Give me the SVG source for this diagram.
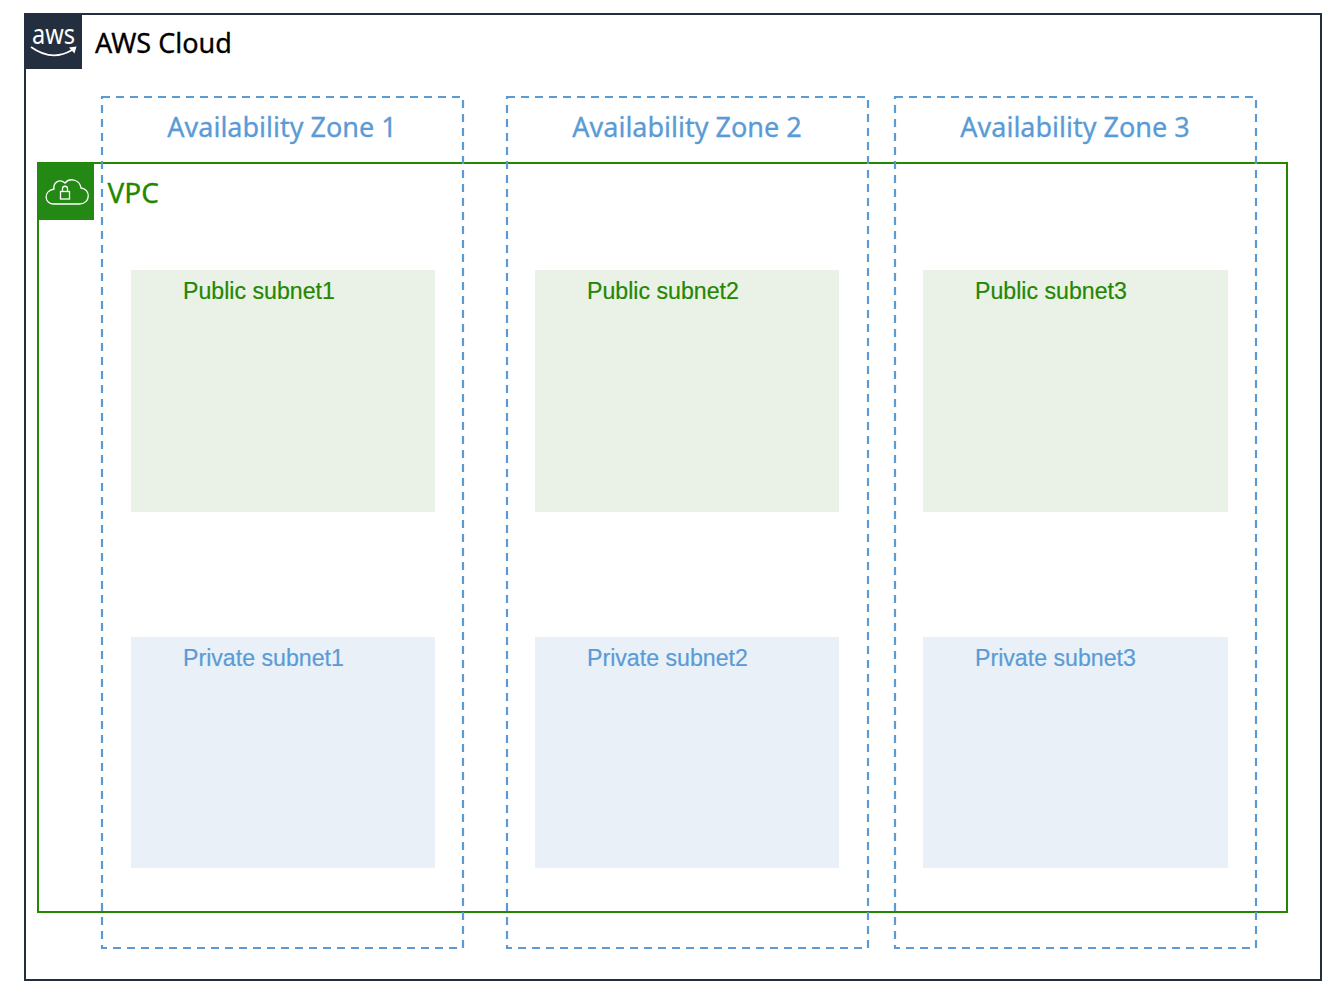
<svg xmlns="http://www.w3.org/2000/svg" width="1338" height="998" viewBox="0 0 1338 998">
<style>
.cloud{fill:none;stroke:#232f3e;stroke-width:2}
.vpc{fill:none;stroke:#248700;stroke-width:2}
.az{fill:none;stroke:#5a9bd5;stroke-width:2.200;stroke-dasharray:8 6}
.pub{fill:#eaf2e8}
.pri{fill:#e9f0f8}
.t{font-family:"Noto Sans","Open Sans",sans-serif}
.azt{font-size:27px;fill:#5a9bd5;stroke:#5a9bd5;stroke-width:.3;text-anchor:middle}
.s{font-family:"Liberation Sans",Arial,sans-serif;font-size:23.150px;stroke-width:.2}
.sg{fill:#248700;stroke:#248700}
.sb{fill:#5a9bd5;stroke:#5a9bd5}
</style>
<rect width="1338" height="998" fill="#fff"/>
<g id="aws-cloud">
<rect class="cloud" x="25" y="14" width="1296" height="966"/>
<rect x="25" y="13" width="57" height="56" fill="#232f3e"/>
<text x="32" y="43.500" class="t" font-size="27" fill="#fff" textLength="43" lengthAdjust="spacingAndGlyphs">aws</text>
<path d="M31 47Q52 62 72 50" fill="none" stroke="#fff" stroke-width="1.800"/>
<path d="M69 47.500L76.500 46.500L74.500 53.500Z" fill="#fff"/>
<text x="95" y="53" class="t" font-size="27" fill="#000" stroke="#000" stroke-width=".3">AWS Cloud</text>
</g>
<g id="vpc">
<rect class="vpc" x="38" y="163" width="1249" height="749"/>
<rect x="37" y="163" width="57" height="57" fill="#248814"/>
<path d="M54 204H79C91 204 91 189 81 188C80 180 70 177 65 183C59 178 53 183 54 189C43 191 44 204 54 204Z" fill="none" stroke="#fff" stroke-width="1.300"/>
<rect x="60.500" y="191.500" width="9" height="7.500" fill="none" stroke="#fff" stroke-width="1.300"/>
<path d="M62.500 191.500V188.500C62.500 185.500 67.500 185.500 67.500 188.500V191.500" fill="none" stroke="#fff" stroke-width="1.300"/>
<text x="107.500" y="203" class="t" font-size="28" fill="#248700" stroke="#248700" stroke-width=".3">VPC</text>
</g>
<g id="public-subnet1"><rect class="pub" x="131" y="270" width="304" height="242"/><text class="s sg" x="183" y="299">Public subnet1</text></g>
<g id="public-subnet2"><rect class="pub" x="535" y="270" width="304" height="242"/><text class="s sg" x="587" y="299">Public subnet2</text></g>
<g id="public-subnet3"><rect class="pub" x="923" y="270" width="305" height="242"/><text class="s sg" x="975" y="299">Public subnet3</text></g>
<g id="private-subnet1"><rect class="pri" x="131" y="637" width="304" height="231"/><text class="s sb" x="183" y="666">Private subnet1</text></g>
<g id="private-subnet2"><rect class="pri" x="535" y="637" width="304" height="231"/><text class="s sb" x="587" y="666">Private subnet2</text></g>
<g id="private-subnet3"><rect class="pri" x="923" y="637" width="305" height="231"/><text class="s sb" x="975" y="666">Private subnet3</text></g>
<g id="az1"><rect class="az" x="102" y="97" width="361" height="851"/><text class="t azt" x="282" y="137">Availability Zone 1</text></g>
<g id="az2"><rect class="az" x="507" y="97" width="361" height="851"/><text class="t azt" x="687" y="137">Availability Zone 2</text></g>
<g id="az3"><rect class="az" x="895" y="97" width="361" height="851"/><text class="t azt" x="1075" y="137">Availability Zone 3</text></g>
<g id="connectors"/>
</svg>
